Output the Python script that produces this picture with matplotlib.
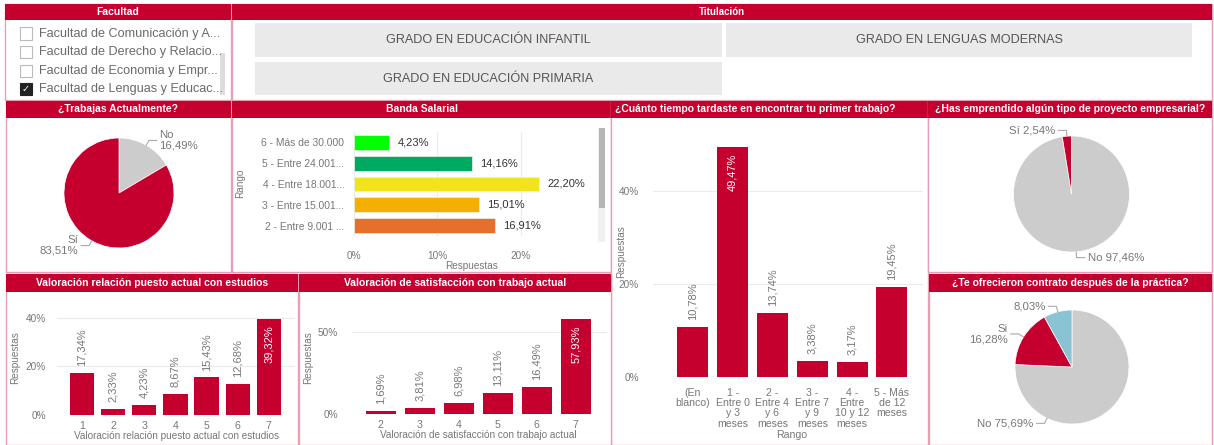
import matplotlib
matplotlib.use("Agg")
import numpy as np
import matplotlib.pyplot as plt
from matplotlib.patches import Rectangle

W, H = 1214, 445
RED = "#C5002F"
GREY = "#CCCCCC"
BLUE = "#8AC4D4"
TXT = "#777777"
BORDER = "#E6A0B2"

plt.rcParams["font.family"] = ["Liberation Sans", "DejaVu Sans"]

# ---- data ----
facultades = ["Facultad de Comunicación y A...", "Facultad de Derecho y Relacio...",
              "Facultad de Economia y Empr...", "Facultad de Lenguas y Educac..."]
facultad_sel = 3
titulaciones = ["GRADO EN EDUCACIÓN INFANTIL", "GRADO EN LENGUAS MODERNAS",
                "GRADO EN EDUCACIÓN PRIMARIA"]

trabajas_cats = ["No", "Sí"]
trabajas_vals = [16.49, 83.51]

banda_cats = ["6 - Más de 30.000", "5 - Entre 24.001...", "4 - Entre 18.001...",
              "3 - Entre 15.001...", "2 - Entre 9.001 ..."]
banda_vals = [4.23, 14.16, 22.20, 15.01, 16.91]
banda_colors = ["#00FF00", "#00A962", "#F2E41C", "#F4B000", "#E76F2C"]

tiempo_cats = ["(En\nblanco)", "1 -\nEntre 0\ny 3\nmeses", "2 -\nEntre 4\ny 6\nmeses",
               "3 -\nEntre 7\ny 9\nmeses", "4 -\nEntre\n10 y 12\nmeses", "5 - Más\nde 12\nmeses"]
tiempo_vals = [10.78, 49.47, 13.74, 3.38, 3.17, 19.45]

emprende_cats = ["No", "Sí"]
emprende_vals = [97.46, 2.54]

relacion_cats = ["1", "2", "3", "4", "5", "6", "7"]
relacion_vals = [17.34, 2.33, 4.23, 8.67, 15.43, 12.68, 39.32]

satisf_cats = ["2", "3", "4", "5", "6", "7"]
satisf_vals = [1.69, 3.81, 6.98, 13.11, 16.49, 57.93]

contrato_cats = ["No", "Si", ""]
contrato_vals = [75.69, 16.28, 8.03]


def pct(v):
    return f"{v:.2f}%".replace(".", ",")


fig = plt.figure(figsize=(W / 100, H / 100), dpi=100)


def fx(x):
    return x / W


def fy(y):
    return 1 - y / H


def box(x0, y0, x1, y1):
    return [x0 / W, 1 - y1 / H, (x1 - x0) / W, (y1 - y0) / H]


def rect(x0, y0, x1, y1, **kw):
    kw.setdefault("zorder", -1)
    fig.add_artist(Rectangle((fx(x0), fy(y1)), (x1 - x0) / W, (y1 - y0) / H,
                             transform=fig.transFigure, **kw))


def panel(x0, y0, x1, y1, title, head=17, fs=7.5, tx=None, **kw):
    rect(x0, y0, x1, y1, fc="white", ec=BORDER, lw=1)
    rect(x0, y0, x1, y0 + head, fc=RED, ec="none")
    if tx is None:
        tx = (x0 + x1) / 2
    fig.text(fx(tx), fy(y0 + head / 2), title, color="white", fontsize=fs,
             fontweight="bold", ha="center", va="center", **kw)


def ftext(x, y, s, **kw):
    kw.setdefault("color", TXT)
    kw.setdefault("ha", "center")
    kw.setdefault("va", "center")
    fig.text(fx(x), fy(y), s, **kw)


def clean(ax):
    ax.set_facecolor("none")
    for s in ax.spines.values():
        s.set_visible(False)
    ax.tick_params(length=0, colors=TXT, labelsize=7.2)


def vlabels(ax, xs, vals):
    vmax = max(vals)
    for x, v in zip(xs, vals):
        if v == vmax:
            ax.annotate(pct(v), (x, v), xytext=(0, -4.5), textcoords="offset points",
                        rotation=90, ha="center", va="top", color="white", fontsize=8)
        else:
            ax.annotate(pct(v), (x, v), xytext=(0, 5), textcoords="offset points",
                        rotation=90, ha="center", va="bottom", color=TXT, fontsize=8)


def pie(cx, cy, r, vals, colors, labels, override=None):
    m = 1.8
    ax = fig.add_axes(box(cx - r * m, cy - r * m, cx + r * m, cy + r * m))
    wedges, _ = ax.pie(vals, colors=colors, startangle=90, counterclock=False,
                       wedgeprops=dict(edgecolor="white", linewidth=0.5))
    ax.set_xlim(-m, m)
    ax.set_ylim(-m, m)
    ax.axis("off")
    for i, (w, lab) in enumerate(zip(wedges, labels)):
        a = (w.theta1 + w.theta2) / 2
        if override and i in override:
            a = override[i]
        c, s = np.cos(np.radians(a)), np.sin(np.radians(a))
        ex, ey = 1.1 * c, 1.1 * s
        side = 1 if c >= 0 else -1
        hx = ex + side * 0.14
        ax.plot([c, ex, hx], [s, ey, ey], color="#AAAAAA", lw=0.8)
        ax.text(hx + side * 0.05, ey, lab, ha="left" if side > 0 else "right",
                va="center", color=TXT, fontsize=8.2, linespacing=1.05)


# ---- Facultad ----
panel(5, 4, 231, 100, "Facultad", head=16)
for i, name in enumerate(facultades):
    y = 33.5 + i * 18.6
    sel = i == facultad_sel
    rect(19.5, y - 6, 31.5, y + 6, fc="#222222" if sel else "white",
         ec="#222222" if sel else "#BBBBBB", lw=0.8, zorder=2)
    if sel:
        ftext(25.5, y, "✓", color="white", fontsize=7, family="DejaVu Sans", zorder=3)
    ftext(39, y, name, ha="left", fontsize=9.1, color="#6A6A6A")
rect(220, 53, 225, 95, fc="#DDDDDD", ec="none", zorder=2)

# ---- Titulación ----
panel(232, 4, 1212, 100, "Titulación", head=16, fs=7,
      family=["Liberation Sans Narrow", "Liberation Sans"])
btn_boxes = [(255, 23, 722, 57), (726, 23, 1192, 57), (255, 62, 722, 95)]
for name, (x0, y0, x1, y1) in zip(titulaciones, btn_boxes):
    rect(x0, y0, x1, y1, fc="#EAEAEA", ec="none", zorder=2)
    ftext((x0 + x1) / 2, (y0 + y1) / 2, name, color="#555555", fontsize=9.1,
          family=["Liberation Sans Narrow", "Liberation Sans"])

# ---- ¿Trabajas Actualmente? ----
panel(6, 101, 231, 272, "¿Trabajas Actualmente?")
pie(119, 193, 55, trabajas_vals, [GREY, RED],
    [f"{c}\n{pct(v)}" for c, v in zip(trabajas_cats, trabajas_vals)])

# ---- Banda Salarial ----
panel(232, 101, 611, 272, "Banda Salarial")
ax = fig.add_axes(box(354, 132, 590, 236))
clean(ax)
yb = np.arange(len(banda_vals))
ax.barh(yb, banda_vals, height=0.72, color=banda_colors, edgecolor="#E8F5E8", lw=0.5, zorder=2)
ax.set_ylim(len(banda_vals) - 0.5, -0.5)
ax.set_xlim(0, 28.3)
ax.set_xticks([0, 10, 20], ["0%", "10%", "20%"])
ax.set_yticks(yb, banda_cats)
ax.tick_params(axis="y", pad=7, labelsize=7.4)
ax.tick_params(axis="x", pad=11)
ax.grid(axis="x", color="#EBEBEB", lw=0.8, zorder=0)
for y, v in zip(yb, banda_vals):
    ax.annotate(pct(v), (v, y), xytext=(6, 0), textcoords="offset points",
                ha="left", va="center", color="#333333", fontsize=8)
ftext(472, 266, "Respuestas", fontsize=7.2)
ftext(240, 183, "Rango", fontsize=7.2, rotation=90)
rect(598, 128, 605, 242, fc="#F0F0F0", ec="none", zorder=2)
rect(598.5, 128, 604.5, 208, fc="#B5B5B5", ec="none", zorder=2)

# ---- ¿Cuánto tiempo...? ----
panel(611, 101, 928, 445, "¿Cuánto tiempo tardaste en encontrar tu primer trabajo?", tx=755)
ax = fig.add_axes(box(653, 130, 923, 377))
clean(ax)
xt = np.arange(len(tiempo_vals))
ax.bar(xt, tiempo_vals, width=0.78, color=RED, zorder=2)
ax.set_xlim(-1.0, 5.78)
ax.set_ylim(0, 53.2)
ax.set_yticks([0, 20, 40], ["0%", "20%", "40%"])
ax.set_xticks(xt, tiempo_cats)
ax.tick_params(axis="x", pad=8, labelsize=7.6)
ax.tick_params(axis="y", pad=10)
for t in ax.get_xticklabels():
    t.set_linespacing(1.02)
ax.grid(axis="y", color="#EBEBEB", lw=0.8, zorder=0)
vlabels(ax, xt, tiempo_vals)
ftext(792, 435, "Rango", fontsize=7.6)
ftext(621, 252, "Respuestas", fontsize=7.2, rotation=90)

# ---- ¿Has emprendido...? ----
panel(928, 101, 1212, 272, "¿Has emprendido algún tipo de proyecto empresarial?")
pie(1071.5, 194, 58, emprende_vals, [GREY, RED],
    [f"{c} {pct(v)}" for c, v in zip(emprende_cats, emprende_vals)])

# ---- Valoración relación ----
panel(6, 274, 298, 445, "Valoración relación puesto actual con estudios", head=18)
ax = fig.add_axes(box(57, 300, 295, 415))
clean(ax)
xr = np.arange(1, len(relacion_vals) + 1)
ax.bar(xr, relacion_vals, width=0.78, color=RED, zorder=2)
ax.set_xlim(0.2, 7.84)
ax.set_ylim(0, 47.3)
ax.set_yticks([0, 20, 40], ["0%", "20%", "40%"])
ax.set_xticks(xr, relacion_cats)
ax.tick_params(axis="x", pad=4, labelsize=7.6)
ax.tick_params(axis="y", pad=8)
ax.grid(axis="y", color="#EBEBEB", lw=0.8, zorder=0)
vlabels(ax, xr, relacion_vals)
ftext(176, 436, "Valoración relación puesto actual con estudios", fontsize=7.2)
ftext(15, 358, "Respuestas", fontsize=7.2, rotation=90)

# ---- Valoración satisfacción ----
panel(299, 274, 611, 445, "Valoración de satisfacción con trabajo actual", head=18)
ax = fig.add_axes(box(352, 300, 607, 414))
clean(ax)
xs = np.arange(2, len(satisf_vals) + 2)
ax.bar(xs, satisf_vals, width=0.78, color=RED, zorder=2)
ax.set_xlim(1.26, 7.8)
ax.set_ylim(0, 69.8)
ax.set_yticks([0, 50], ["0%", "50%"])
ax.set_xticks(xs, satisf_cats)
ax.tick_params(axis="x", pad=4, labelsize=7.6)
ax.tick_params(axis="y", pad=10)
ax.grid(axis="y", color="#EBEBEB", lw=0.8, zorder=0)
vlabels(ax, xs, satisf_vals)
ftext(478, 435, "Valoración de satisfacción con trabajo actual", fontsize=7.2)
ftext(308, 358, "Respuestas", fontsize=7.2, rotation=90)

# ---- ¿Te ofrecieron contrato...? ----
panel(929, 274, 1212, 445, "¿Te ofrecieron contrato después de la práctica?", head=18)
seps = [" ", "\n", ""]
pie(1072, 367, 57, contrato_vals, [GREY, RED, BLUE],
    [f"{c}{sp}{pct(v)}" for c, sp, v in zip(contrato_cats, seps, contrato_vals)],
    override={0: -116})

fig.savefig("out.png", dpi=100)
